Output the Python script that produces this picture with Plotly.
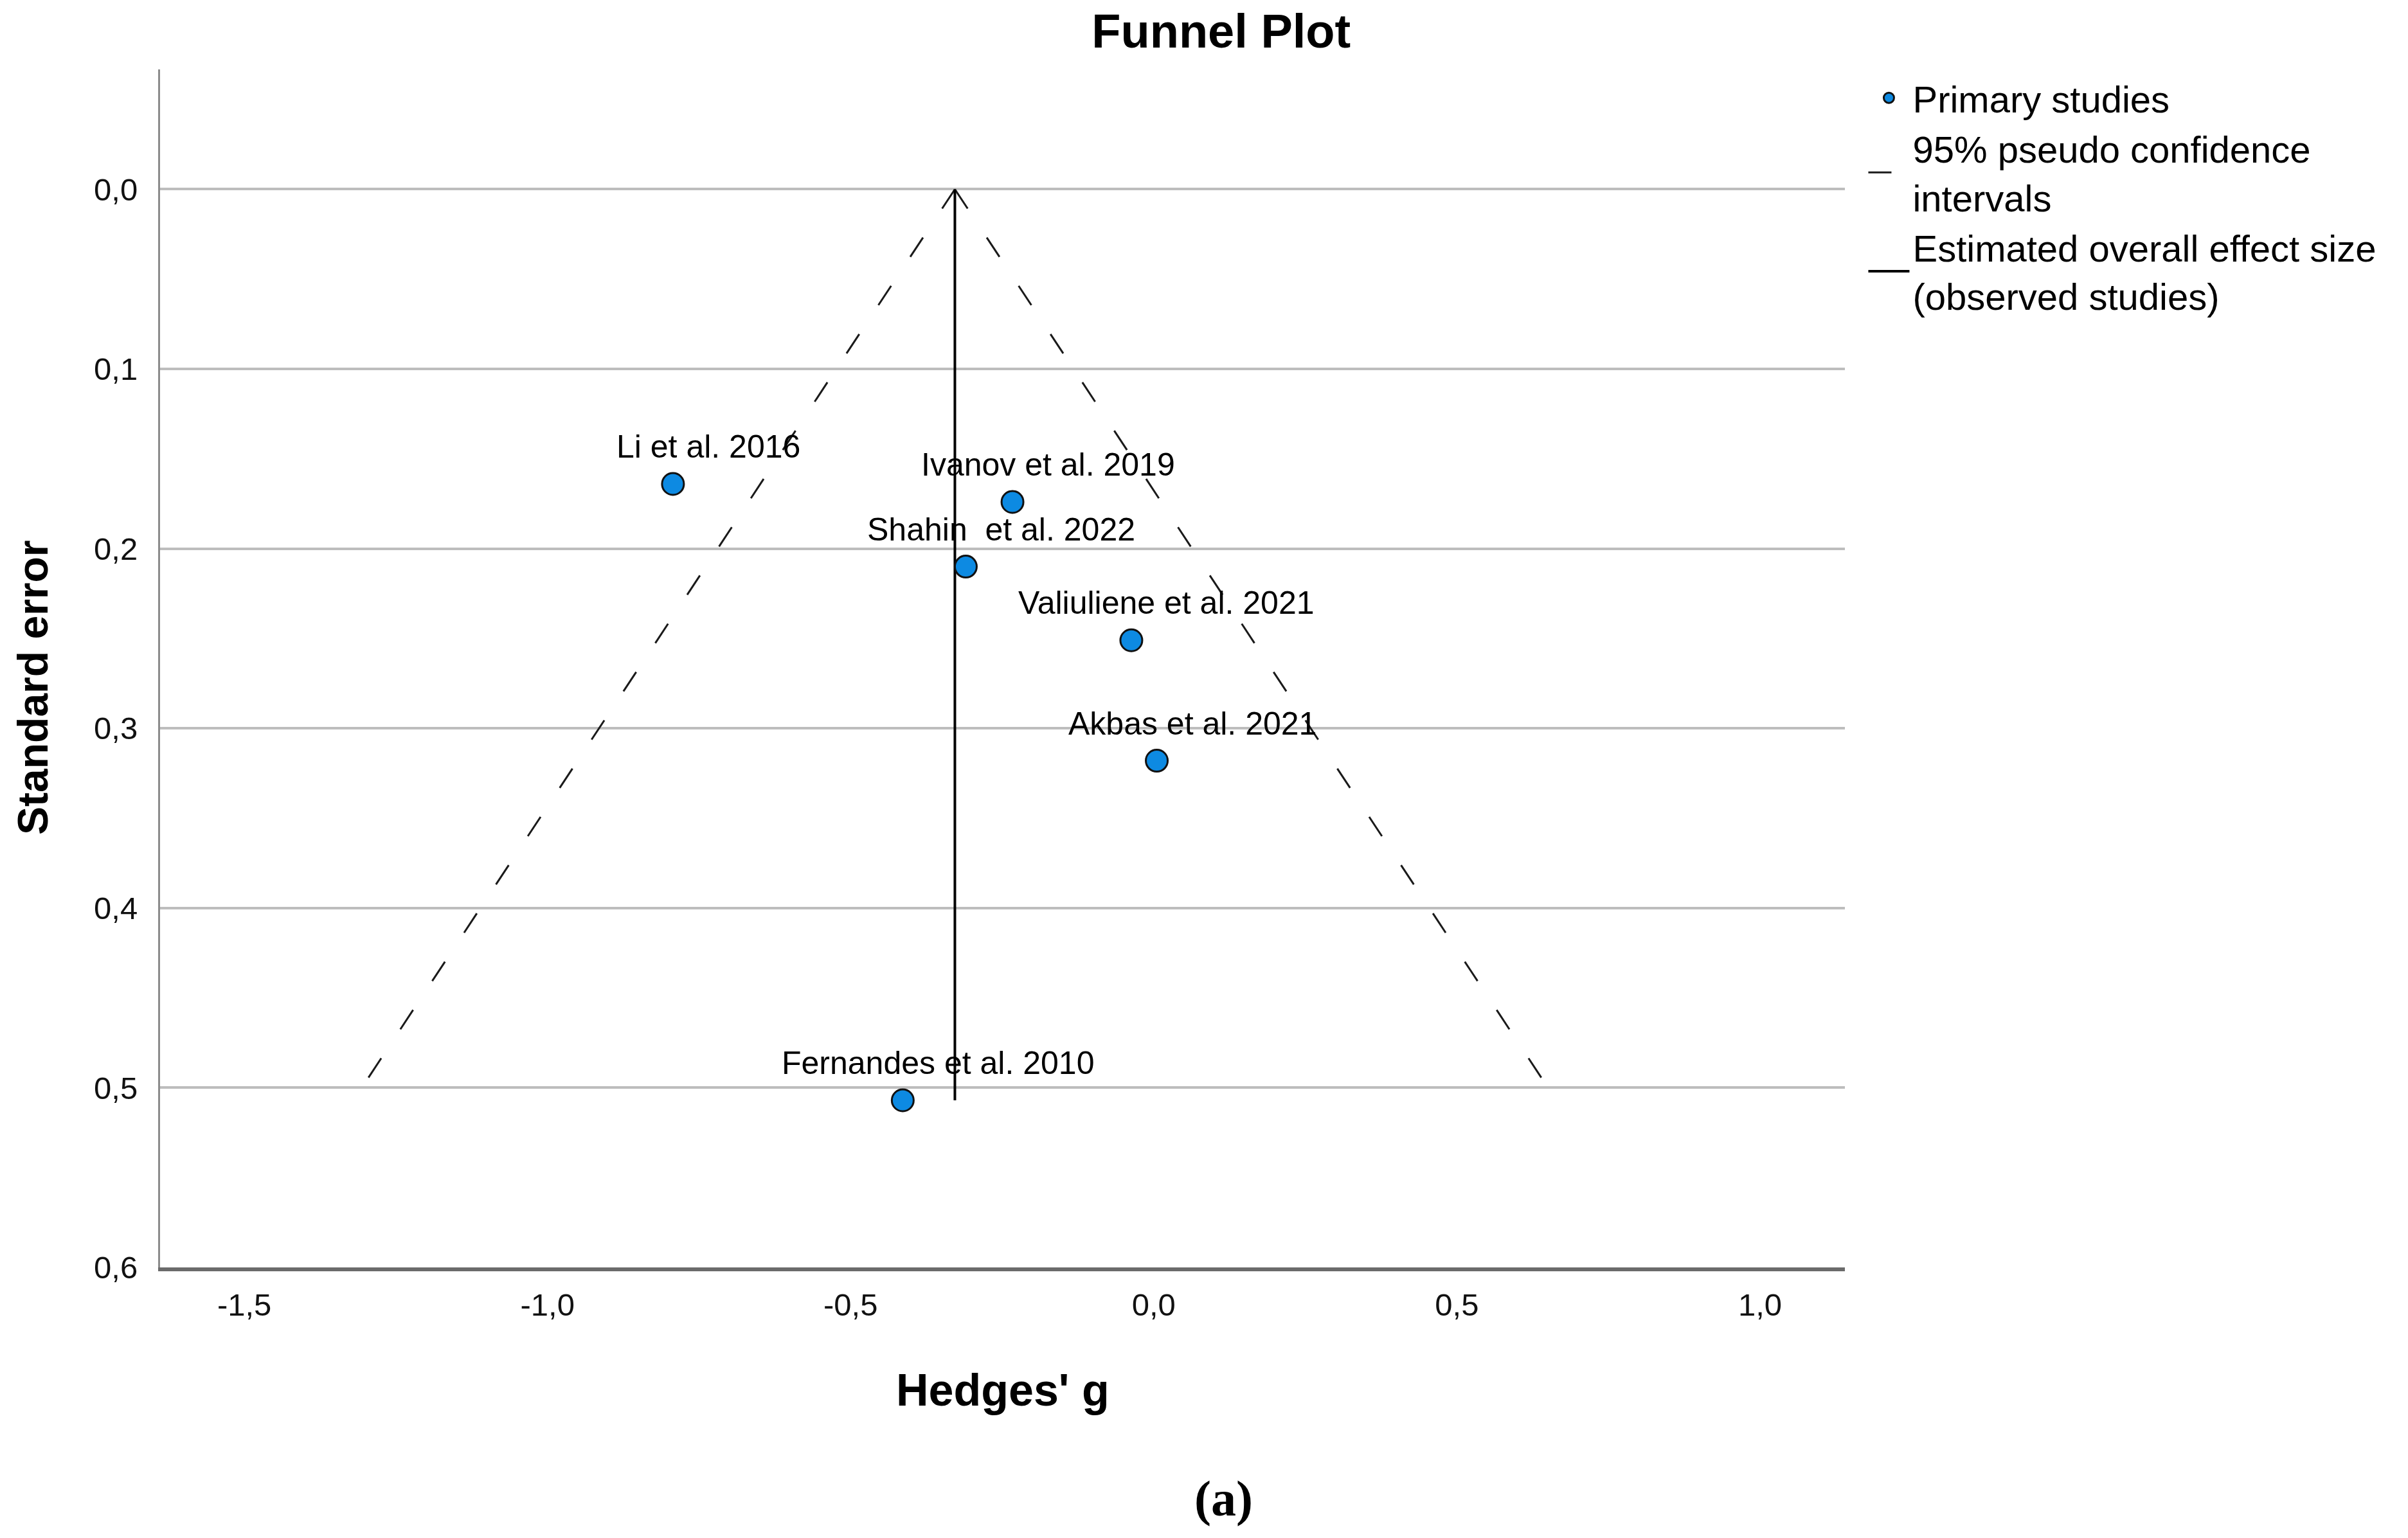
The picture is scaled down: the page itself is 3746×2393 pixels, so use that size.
import plotly.graph_objects as go

# ---- data ----
studies = ["Li et al. 2016", "Ivanov et al. 2019", "Shahin  et al. 2022",
           "Valiuliene et al. 2021", "Akbas et al. 2021", "Fernandes et al. 2010"]
hedges_g = [-0.793, -0.233, -0.310, -0.037, 0.005, -0.414]
std_err = [0.164, 0.174, 0.210, 0.251, 0.318, 0.507]

overall_g = -0.328
overall_se = [0.0, 0.507]

ci_left_g = [-0.328, -1.320]
ci_right_g = [-0.328, 0.664]
ci_se = [0.0, 0.507]

x_tick_vals = [-1.5, -1.0, -0.5, 0.0, 0.5, 1.0]
x_tick_text = ["-1,5", "-1,0", "-0,5", "0,0", "0,5", "1,0"]
y_tick_vals = [0.0, 0.1, 0.2, 0.3, 0.4, 0.5, 0.6]
y_tick_text = ["0,0", "0,1", "0,2", "0,3", "0,4", "0,5", "0,6"]

FONT = "Liberation Sans, Arial, sans-serif"

fig = go.Figure()

fig.add_trace(go.Scatter(
    x=ci_left_g + [None] + ci_right_g,
    y=ci_se + [None] + ci_se,
    mode="lines",
    name="95% pseudo confidence<br>intervals",
    legendrank=2,
    line=dict(color="#1a1a1a", width=3, dash="36px,54px"),
    hoverinfo="skip",
))

fig.add_trace(go.Scatter(
    x=[overall_g, overall_g],
    y=overall_se,
    mode="lines",
    name="Estimated overall effect size<br>(observed studies)",
    legendrank=3,
    line=dict(color="#000000", width=4),
    hoverinfo="skip",
))

fig.add_trace(go.Scatter(
    x=hedges_g,
    y=std_err,
    mode="markers",
    name="Primary studies",
    legendrank=1,
    marker=dict(size=34, color="#0d8ae2", line=dict(color="#111111", width=3)),
    text=studies,
))

for g, se, s in zip(hedges_g, std_err, studies):
    fig.add_annotation(x=g, y=se, text=s, showarrow=False,
                       xshift=55, yshift=58, xanchor="center", yanchor="middle",
                       font=dict(family=FONT, size=50, color="#000000"))

fig.add_annotation(xref="paper", yref="paper", x=0.5, y=-0.1025,
                   text="<b>Hedges' g</b>", showarrow=False,
                   xanchor="center", yanchor="middle",
                   font=dict(family=FONT, size=70, color="#000000"))
fig.add_annotation(xref="paper", yref="paper", x=-0.0755, y=0.484,
                   text="<b>Standard error</b>", showarrow=False, textangle=-90,
                   xanchor="center", yanchor="middle",
                   font=dict(family=FONT, size=66, color="#000000"))
fig.add_annotation(xref="paper", yref="paper", x=0.6314, y=-0.1926,
                   text="<b>(a)</b>", showarrow=False,
                   xanchor="center", yanchor="middle",
                   font=dict(family="Liberation Serif, Times New Roman, serif", size=78, color="#000000"))

fig.update_layout(
    width=3746, height=2393,
    margin=dict(l=241, r=884, t=100, b=429),
    paper_bgcolor="white", plot_bgcolor="white",
    font=dict(family=FONT, color="#000000"),
    title=dict(text="<b>Funnel Plot</b>", x=0.505, xref="container", xanchor="center",
               y=1 - 40 / 2393, yref="container", yanchor="middle",
               font=dict(family=FONT, size=74, color="#000000")),
    showlegend=True,
    legend=dict(x=1.012, xanchor="left", y=1.0, yanchor="top",
                traceorder="normal",
                font=dict(family=FONT, size=58, color="#000000"),
                bgcolor="rgba(0,0,0,0)", itemwidth=64, tracegroupgap=0),
)

fig.update_xaxes(range=[-1.639, 1.140], tickvals=x_tick_vals, ticktext=x_tick_text,
                 showgrid=False, zeroline=False, showline=True, linecolor="#6b6b6b",
                 linewidth=6, ticks="", ticklabelstandoff=10,
                 tickfont=dict(family=FONT, size=49, color="#111111"))
fig.update_yaxes(range=[0.6, -0.0667], tickvals=y_tick_vals, ticktext=y_tick_text,
                 showgrid=True, gridcolor="#bdbdbd", gridwidth=4, zeroline=False,
                 showline=True, linecolor="#8c8c8c", linewidth=3, ticks="",
                 ticklabelstandoff=22,
                 tickfont=dict(family=FONT, size=49, color="#111111"))

fig.write_html("out.html")
